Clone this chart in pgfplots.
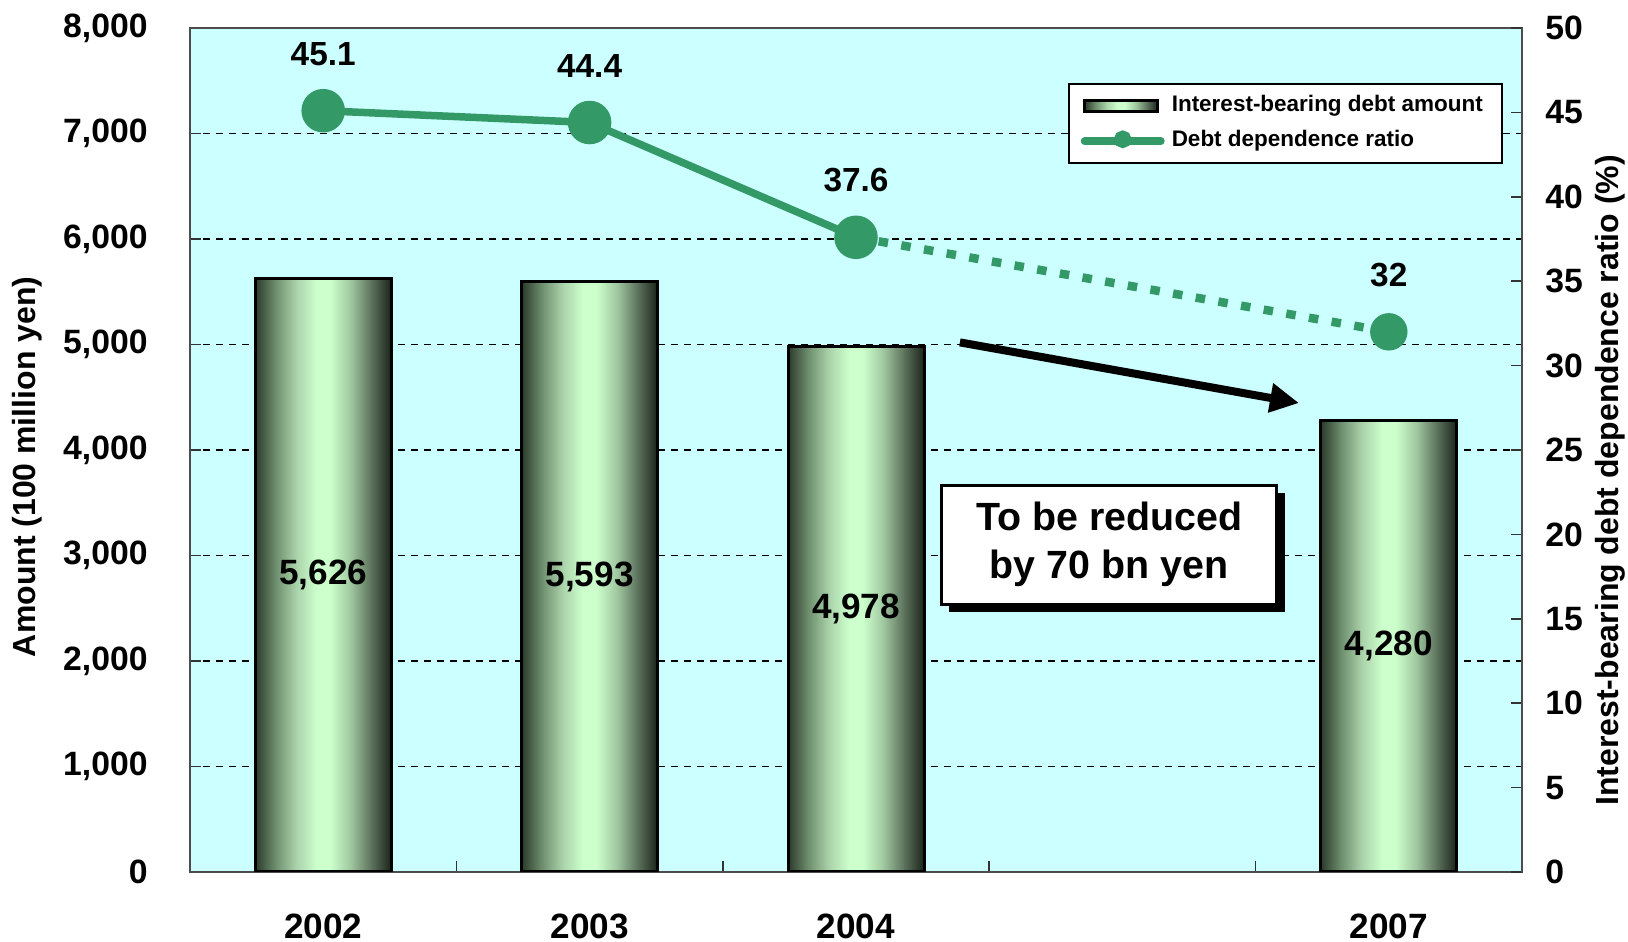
\documentclass[border=0pt]{standalone}
\usepackage{pgfplots}
\pgfplotsset{compat=1.18}
\usepackage{fontspec}
\setmainfont{Liberation Sans}
\usetikzlibrary{arrows.meta}

\definecolor{plotbg}{HTML}{CCFFFF}
\definecolor{ratiogreen}{HTML}{339966}
\definecolor{cylA}{HTML}{2B3A2B}
\definecolor{cylB}{HTML}{6E8F6E}
\definecolor{cylC}{HTML}{AAD2AA}
\definecolor{cylD}{HTML}{CCFFCC}
\definecolor{cylE}{HTML}{A0C8A0}
\definecolor{cylF}{HTML}{5E745E}
\definecolor{cylG}{HTML}{1A241A}

% cylinder-like shading across each bar (active region 25bp--75bp)
\pgfdeclarehorizontalshading{barcyl}{100bp}{
  color(0bp)=(cylA); color(25bp)=(cylA); color(32.5bp)=(cylB); color(40bp)=(cylC);
  color(47.5bp)=(cylD); color(52.5bp)=(cylD); color(60bp)=(cylE);
  color(67.5bp)=(cylF); color(75bp)=(cylG); color(100bp)=(cylG)}

\newcommand{\ticksize}{\fontsize{9.6}{10}\selectfont\bfseries}
\newcommand{\yearsize}{\fontsize{10}{11}\selectfont\bfseries}
\newcommand{\barsize}{\fontsize{10}{11}\selectfont\bfseries}
\newcommand{\ptsize}{\fontsize{9.5}{10}\selectfont\bfseries}
\newcommand{\labsize}{\fontsize{9.1}{10}\selectfont\bfseries}
\newcommand{\boxsize}{\fontsize{11.2}{13.6}\selectfont\bfseries}
\newcommand{\legsize}{\fontsize{6.4}{7.5}\selectfont\bfseries}

\pgfplotsset{
  debtbar/.style={ybar, bar width=13.6mm, bar shift=0pt, draw=black, line width=0.3mm,
    shading=barcyl,
    visualization depends on=rawy \as \rawy,
    nodes near coords,
    every node near coord/.append style={font=\barsize, text=black, anchor=center,
      shift={(axis direction cs:0,-\rawy/2)}}},
}

\begin{document}
\begin{tikzpicture}
\path[use as bounding box] (0,0) rectangle (162.8mm,94.2mm);

% left axis: debt amount as shaded bars
\begin{axis}[
  at={(19mm,7mm)}, anchor=south west,
  width=133.2mm, height=84.4mm, scale only axis,
  xmin=-0.5, xmax=4.5, ymin=0, ymax=8000,
  axis background/.style={fill=plotbg},
  axis line style={draw=black!70, line width=0.25mm},
  xtick={0.5,1.5,2.5,3.5}, xticklabels={},
  extra x ticks={0,1,2,4},
  extra x tick labels={2002,2003,2004,2007},
  extra x tick style={major tick length=0pt, grid=none,
    xticklabel style={font=\yearsize, yshift=-3mm}},
  xtick pos=bottom, ytick pos=left,
  tick align=inside,
  major tick length=1.1mm,
  ytick={0,1000,...,8000},
  ymajorgrids,
  major grid style={black, line width=0.12mm, dash pattern=on 0.7mm off 0.6mm},
  tick style={black!80, line width=0.15mm},
  /pgf/number format/1000 sep={,},
  /pgf/number format/assume math mode=true,
  tick label style={font=\ticksize},
  yticklabel style={xshift=-3mm},
  ylabel={Amount (100 million yen)},
  ylabel style={font=\labsize, at={(axis description cs:-0.1224,0.48)}, anchor=center},
]
% one plot per bar so that each bar gets its own cylinder shading
\addplot[debtbar] coordinates {(0,5626)};
\addplot[debtbar] coordinates {(1,5593)};
\addplot[debtbar] coordinates {(2,4978)};
\addplot[debtbar] coordinates {(4,4280)};

% callout with drop shadow and arrow
\fill[black, xshift=0.8mm, yshift=-0.8mm] (axis cs:2.320,2540) rectangle (axis cs:3.579,3668);
\draw[black, line width=0.3mm, fill=white] (axis cs:2.320,2540) rectangle (axis cs:3.579,3668);
\node[font=\boxsize, align=center] at (axis cs:2.95,3104) {To be reduced\\by 70 bn yen};
\draw[black, line width=0.8mm, -{Triangle[length=2.9mm,width=2.8mm]}]
  (axis cs:2.390,5020) -- (axis cs:3.663,4445);
\end{axis}

% right axis: debt dependence ratio
\begin{axis}[
  at={(19mm,7mm)}, anchor=south west,
  width=133.2mm, height=84.4mm, scale only axis,
  xmin=-0.5, xmax=4.5, ymin=0, ymax=50,
  axis x line=none,
  axis y line*=right,
  axis line style={draw=black!70, line width=0.25mm},
  ytick={0,5,...,50},
  tick align=inside, major tick length=1.1mm,
  tick style={black!80, line width=0.15mm},
  /pgf/number format/assume math mode=true,
  tick label style={font=\ticksize},
  yticklabel style={xshift=1.1mm, anchor=west},
  ylabel={Interest-bearing debt dependence ratio (\%)},
  ylabel style={font=\labsize, at={(axis description cs:1.066,0.464)}, anchor=center},
  legend style={at={(axis description cs:0.9857,0.935)}, anchor=north east,
    draw=black, line width=0.2mm, fill=white, font=\legsize,
    inner xsep=1.2mm, inner ysep=0.4mm,
    cells={anchor=west}, row sep=0mm},
]
\addlegendimage{legend image code/.code={
  \draw[draw=black, line width=0.3mm, shading=barcyl]
    (0mm,-0.55mm) rectangle (7.3mm,0.55mm);}}
\addlegendentry{Interest-bearing debt amount}

\addplot[ratiogreen, line width=0.85mm, dash pattern=on 0.95mm off 1.35mm, forget plot]
  coordinates {(2,37.6) (4,32)};
\addplot[ratiogreen, line width=0.75mm, mark=*, mark size=1.8mm,
  nodes near coords,
  every node near coord/.append style={font=\ptsize, text=black, anchor=center, yshift=5.7mm},
  legend image code/.code={
    \draw[ratiogreen, line width=0.8mm, line cap=round] (0mm,0mm) -- (7.6mm,0mm);
    \fill[ratiogreen] (3.8mm,0.2mm) circle (0.5mm);}]
  coordinates {(0,45.1) (1,44.4) (2,37.6)};
\addlegendentry{Debt dependence ratio}
\addplot[only marks, ratiogreen, mark=*, mark size=1.8mm, forget plot,
  nodes near coords,
  every node near coord/.append style={font=\ptsize, text=black, anchor=center, yshift=5.7mm}]
  coordinates {(4,32)};
\end{axis}
\end{tikzpicture}
\end{document}
